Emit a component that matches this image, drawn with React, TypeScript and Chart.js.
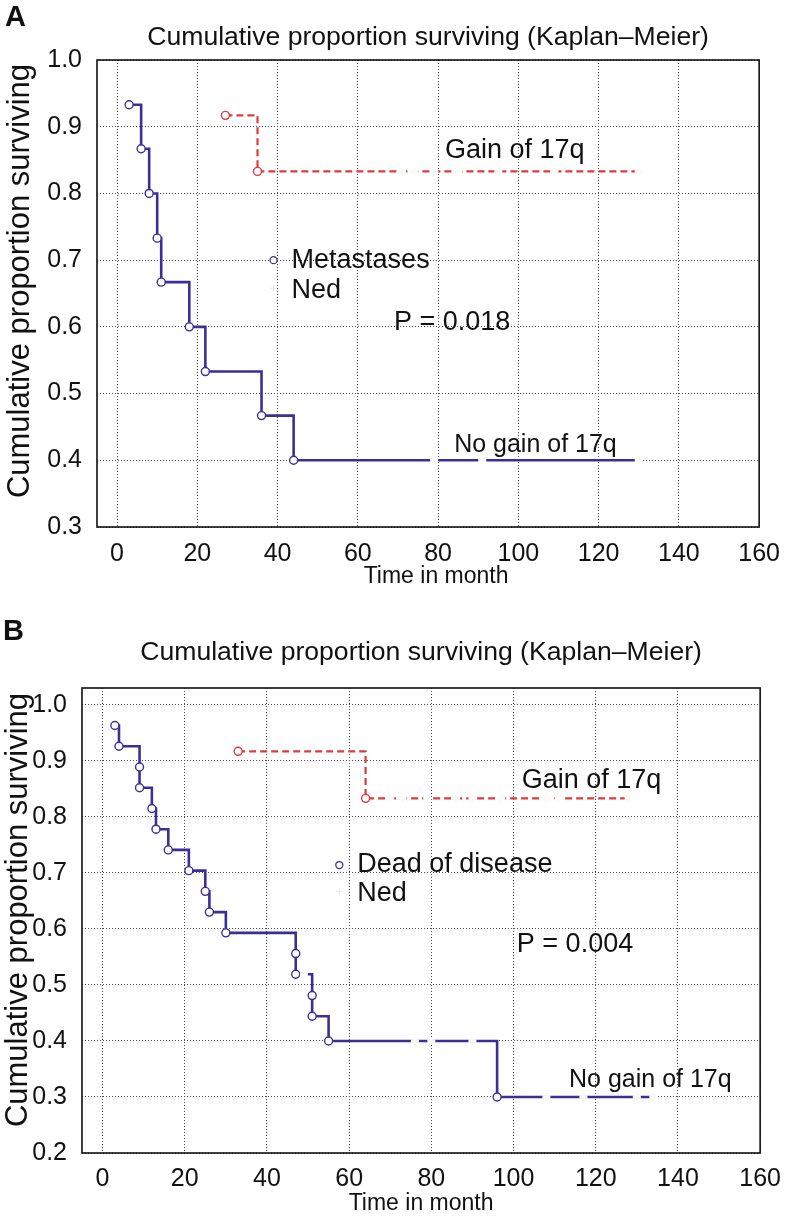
import React, { useEffect, useRef } from 'react';
import { Chart, registerables } from 'chart.js';

Chart.register(...registerables);

const FONT = '"Liberation Sans", Arial, Helvetica, sans-serif';
const BLUE = '#3b2f95';
const RED = '#de3a3c';
const INK = '#111111';
const LABEL_FONT_SIZES = [27, 25, 27];

// ---------- shared axis ticks ----------
const xTickValues = [0, 20, 40, 60, 80, 100, 120, 140, 160];
const aYTickValues = [0.3, 0.4, 0.5, 0.6, 0.7, 0.8, 0.9, 1.0];
const bYTickValues = [0.2, 0.3, 0.4, 0.5, 0.6, 0.7, 0.8, 0.9, 1.0];

// ---------- Panel A data ----------
const aNoGainTimes = [3, 6, 8, 10, 11, 18, 22, 36, 44, 130];
const aNoGainSurv = [0.933, 0.867, 0.8, 0.733, 0.667, 0.6, 0.533, 0.467, 0.4, 0.4];
const aNoGainCensored = [79, 91, 130];
const aGainTimes = [27, 35, 130];
const aGainSurv = [0.917, 0.833, 0.833];
const aGainCensored = [71, 74, 79, 85, 95, 109, 130];

// ---------- Panel B data ----------
const bNoGainTimes = [3, 4, 9, 9, 12, 13, 16, 21, 25, 26, 30, 47, 47, 51, 51, 55, 96, 134];
const bNoGainSurv = [0.963, 0.926, 0.889, 0.852, 0.815, 0.778, 0.741, 0.704, 0.667, 0.63, 0.593, 0.556, 0.519, 0.481, 0.444, 0.4, 0.3, 0.3];
const bNoGainCensored = [49, 76, 80, 90, 108, 117, 130, 134];
const bGainTimes = [33, 64, 128];
const bGainSurv = [0.917, 0.833, 0.833];
const bGainCensored = [70, 73, 79, 86, 90, 97, 108, 111, 128];

// ---------- annotation texts (positions in data units) ----------
const aLabelTexts = ['Gain of 17q', 'No gain of 17q', 'P = 0.018'];
const aLabelT = [81.7, 84, 69];
const aLabelS = [0.865, 0.422, 0.607];
const aLegendTexts = ['Metastases', 'Ned'];
const aLegendT = 39;
const aLegendS = [0.7, 0.658];

const bLabelTexts = ['Gain of 17q', 'No gain of 17q', 'P = 0.004'];
const bLabelT = [102, 113.5, 100.8];
const bLabelS = [0.864, 0.33, 0.572];
const bLegendTexts = ['Dead of disease', 'Ned'];
const bLegendT = 57.6;
const bLegendS = [0.714, 0.667];

const TITLE = 'Cumulative proportion surviving (Kaplan\u2013Meier)';
const Y_TITLE = 'Cumulative proportion surviving';
const X_TITLE = 'Time in month';

function levelAt(times: number[], surv: number[], t: number) {
  let s = surv[0];
  for (let i = 0; i < times.length; i++) if (times[i] <= t) s = surv[i];
  return s;
}

type PanelSpec = {
  key: string;
  letter: string;
  height: number;
  padTop: number;
  padRight: number;
  yAxisW: number;
  xAxisH: number;
  yMin: number;
  yMax: number;
  yTicks: number[];
  xTickPad: number;
  xTitleDx: number;
  xTitleY: number;
  yTitleX: number;
  yTitleY: number;
  titleY: number;
  letterX: number;
  letterY: number;
  noGainT: number[];
  noGainS: number[];
  noGainC: number[];
  gainT: number[];
  gainS: number[];
  gainC: number[];
  labelTexts: string[];
  labelT: number[];
  labelS: number[];
  legendTexts: string[];
  legendT: number;
  legendS: number[];
};

const panelA: PanelSpec = {
  key: 'A', letter: 'A', height: 600, padTop: 60, padRight: 23, yAxisW: 97, xAxisH: 73,
  yMin: 0.3, yMax: 1.0, yTicks: aYTickValues, xTickPad: 12,
  xTitleDx: 8, xTitleY: 577,
  yTitleX: 20, yTitleY: 281,
  titleY: 38, letterX: 5, letterY: 18,
  noGainT: aNoGainTimes, noGainS: aNoGainSurv, noGainC: aNoGainCensored,
  gainT: aGainTimes, gainS: aGainSurv, gainC: aGainCensored,
  labelTexts: aLabelTexts, labelT: aLabelT, labelS: aLabelS,
  legendTexts: aLegendTexts, legendT: aLegendT, legendS: aLegendS,
};

const panelB: PanelSpec = {
  key: 'B', letter: 'B', height: 621, padTop: 88, padRight: 24, yAxisW: 82, xAxisH: 68,
  yMin: 0.2, yMax: 1.03, yTicks: bYTickValues, xTickPad: 11,
  xTitleDx: 0, xTitleY: 604,
  yTitleX: 18, yTitleY: 310,
  titleY: 53, letterX: 3, letterY: 32,
  noGainT: bNoGainTimes, noGainS: bNoGainSurv, noGainC: bNoGainCensored,
  gainT: bGainTimes, gainS: bGainSurv, gainC: bGainCensored,
  labelTexts: bLabelTexts, labelT: bLabelT, labelS: bLabelS,
  legendTexts: bLegendTexts, legendT: bLegendT, legendS: bLegendS,
};

function makeAnnotPlugin(P: PanelSpec) {
  return {
    id: 'annot' + P.key,
    afterDraw(chart: any) {
      const { ctx, chartArea: a, scales } = chart;
      const x = scales.x;
      const y = scales.y;
      ctx.save();
      // frame
      ctx.strokeStyle = INK;
      ctx.lineWidth = 1.6;
      ctx.setLineDash([]);
      ctx.strokeRect(a.left, a.top, a.right - a.left, a.bottom - a.top);
      // title
      ctx.fillStyle = INK;
      ctx.textBaseline = 'middle';
      ctx.textAlign = 'center';
      ctx.font = `26.6px ${FONT}`;
      ctx.fillText(TITLE, (a.left + a.right) / 2, P.titleY);
      // x axis title
      ctx.font = `23px ${FONT}`;
      ctx.fillText(X_TITLE, (a.left + a.right) / 2 + P.xTitleDx, P.xTitleY);
      // y axis title (rotated)
      ctx.save();
      ctx.translate(P.yTitleX, P.yTitleY);
      ctx.rotate(-Math.PI / 2);
      ctx.font = `31px ${FONT}`;
      ctx.fillText(Y_TITLE, 0, 0);
      ctx.restore();
      // panel letter
      ctx.textAlign = 'left';
      ctx.font = `bold 29px ${FONT}`;
      ctx.fillText(P.letter, P.letterX, P.letterY);
      // annotations
      P.labelTexts.forEach((t, i) => {
        ctx.font = `${LABEL_FONT_SIZES[i]}px ${FONT}`;
        ctx.fillText(t, x.getPixelForValue(P.labelT[i]), y.getPixelForValue(P.labelS[i]));
      });
      // in-plot legend
      ctx.font = `27px ${FONT}`;
      const lx = x.getPixelForValue(P.legendT);
      const ly0 = y.getPixelForValue(P.legendS[0]);
      const ly1 = y.getPixelForValue(P.legendS[1]);
      ctx.beginPath();
      ctx.arc(lx, ly0, 3.5, 0, Math.PI * 2);
      ctx.fillStyle = '#ffffff';
      ctx.fill();
      ctx.strokeStyle = BLUE;
      ctx.lineWidth = 1.3;
      ctx.stroke();
      ctx.strokeStyle = '#e8e6d6';
      ctx.lineWidth = 1;
      ctx.beginPath();
      ctx.moveTo(lx - 3, ly1); ctx.lineTo(lx + 3, ly1);
      ctx.moveTo(lx, ly1 - 3); ctx.lineTo(lx, ly1 + 3);
      ctx.stroke();
      ctx.fillStyle = INK;
      ctx.fillText(P.legendTexts[0], lx + 18, ly0);
      ctx.fillText(P.legendTexts[1], lx + 18, ly1 + 2);
      ctx.restore();
    },
  };
}

function buildConfig(P: PanelSpec): any {
  const toPts = (T: number[], S: number[]) => T.map((t, i) => ({ x: t, y: S[i] }));
  const cens = [
    ...P.noGainC.map((t) => ({ x: t, y: levelAt(P.noGainT, P.noGainS, t) })),
    ...P.gainC.map((t) => ({ x: t, y: levelAt(P.gainT, P.gainS, t) })),
  ];
  const nNo = P.noGainT.length;
  const nG = P.gainT.length;
  return {
    type: 'line',
    data: {
      datasets: [
        {
          type: 'scatter',
          data: cens,
          order: 0,
          pointStyle: 'cross',
          pointRadius: 4,
          pointBorderWidth: 3.5,
          pointBorderColor: 'rgba(250,250,246,1)',
          pointBackgroundColor: 'rgba(250,250,246,1)',
          showLine: false,
        },
        {
          data: toPts(P.gainT, P.gainS),
          order: 1,
          stepped: 'before',
          borderColor: RED,
          borderWidth: 2.2,
          borderDash: [7, 4],
          fill: false,
          pointRadius: (c: any) => (c.dataIndex < nG - 1 ? 4 : 0),
          pointBorderColor: RED,
          pointBackgroundColor: '#ffffff',
          pointBorderWidth: 1.4,
        },
        {
          data: toPts(P.noGainT, P.noGainS),
          order: 2,
          stepped: 'before',
          borderColor: BLUE,
          borderWidth: 2.6,
          fill: false,
          pointRadius: (c: any) => (c.dataIndex < nNo - 1 ? 4 : 0),
          pointBorderColor: BLUE,
          pointBackgroundColor: '#ffffff',
          pointBorderWidth: 1.4,
        },
      ],
    },
    options: {
      responsive: false,
      animation: false,
      events: [],
      layout: { padding: { top: P.padTop, right: P.padRight, left: 0, bottom: 0 } },
      plugins: { legend: { display: false }, tooltip: { enabled: false }, title: { display: false } },
      scales: {
        x: {
          type: 'linear',
          min: -5,
          max: 160,
          afterBuildTicks: (s: any) => {
            s.ticks = xTickValues.map((v) => ({ value: v }));
          },
          afterFit: (s: any) => {
            s.height = P.xAxisH;
          },
          grid: { color: '#4a4a4a', lineWidth: 1, drawTicks: false },
          border: { display: false, dash: [1, 2] },
          ticks: {
            color: INK,
            font: { family: FONT, size: 25 },
            padding: P.xTickPad,
            maxRotation: 0,
            autoSkip: false,
            callback: (v: any) => String(v),
          },
          title: { display: false },
        },
        y: {
          type: 'linear',
          min: P.yMin,
          max: P.yMax,
          afterBuildTicks: (s: any) => {
            s.ticks = P.yTicks.map((v) => ({ value: v }));
          },
          afterFit: (s: any) => {
            s.width = P.yAxisW;
          },
          grid: { color: '#4a4a4a', lineWidth: 1, drawTicks: false },
          border: { display: false, dash: [1, 2] },
          ticks: {
            color: INK,
            font: { family: FONT, size: 25 },
            padding: 15,
            autoSkip: false,
            callback: (v: any) => Number(v).toFixed(1),
          },
          title: { display: false },
        },
      },
    },
    plugins: [makeAnnotPlugin(P)],
  };
}

function KMPanel({ spec, top }: { spec: PanelSpec; top: number }) {
  const ref = useRef<HTMLCanvasElement | null>(null);
  useEffect(() => {
    if (!ref.current) return;
    const chart = new Chart(ref.current, buildConfig(spec));
    return () => chart.destroy();
  }, [spec]);
  return (
    <div style={{ position: 'absolute', left: 0, top, width: 792, height: spec.height }}>
      <canvas ref={ref} width={792} height={spec.height} style={{ width: 792, height: spec.height, display: 'block' }} />
    </div>
  );
}

export default function App() {
  return (
    <div style={{ position: 'absolute', left: 0, top: 0, width: 792, height: 1221, background: '#ffffff', overflow: 'hidden' }}>
      <KMPanel spec={panelA} top={0} />
      <KMPanel spec={panelB} top={600} />
    </div>
  );
}
